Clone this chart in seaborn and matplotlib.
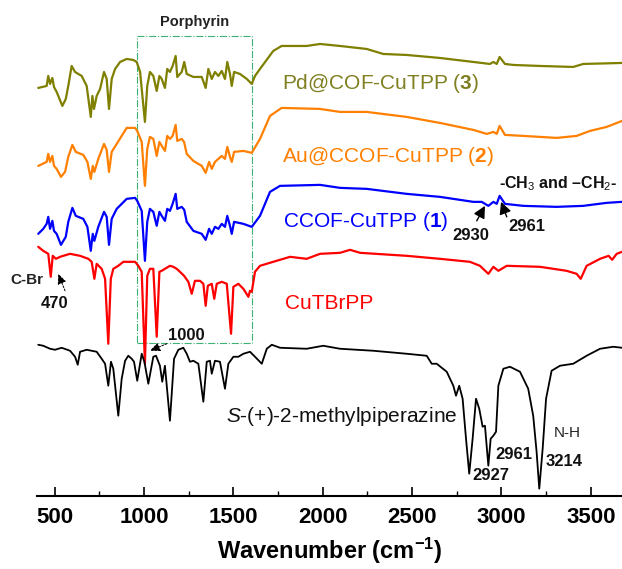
import matplotlib
matplotlib.use("Agg")
import matplotlib.pyplot as plt
import numpy as np
import pandas as pd
import seaborn as sns
from matplotlib.patches import Rectangle

# FT-IR spectra, stacked with vertical offsets (transmittance, arbitrary units)
pd_wn = [408, 455, 464, 474, 487, 496, 511, 543, 562, 576, 595, 614, 651, 679, 702, 711, 720,
         735, 754, 776, 791, 804, 819, 838, 866, 903, 940, 959, 978, 1005, 1018, 1033, 1052,
         1071, 1086, 1099, 1117, 1130, 1145, 1160, 1177, 1186, 1211, 1225, 1239, 1276, 1323,
         1345, 1360, 1379, 1397, 1416, 1435, 1453, 1466, 1481, 1491, 1504, 1537, 1575, 1603,
         1621, 1649, 1723, 1770, 1910, 1985, 2097, 2246, 2339, 2470, 2656, 2843, 2936, 2955,
         2974, 2990, 3020, 3067, 3216, 3402, 3458, 3675]
pd_t = [408, 410, 420, 412, 418, 409, 404, 390, 397, 410, 430, 424, 420, 410, 379, 400, 387,
        400, 407, 424, 417, 387, 417, 427, 434, 437, 436, 434, 424, 374, 410, 424, 420,
        405, 420, 417, 408, 427, 424, 430, 440, 419, 424, 434, 422, 419, 419,
        408, 427, 417, 424, 420, 425, 417, 434, 422, 410, 424, 422, 417, 412,
        420, 427, 445, 450, 450, 452, 450, 447, 442, 441, 438, 434, 432, 434,
        432, 439, 432, 431, 430, 429, 432, 433]

au_wn = [408, 455, 464, 474, 487, 496, 511, 535, 558, 576, 599, 618, 660, 683, 702, 713, 722,
         744, 776, 791, 804, 819, 847, 903, 950, 962, 987, 1005, 1018, 1033, 1052, 1071, 1086,
         1099, 1117, 1130, 1145, 1160, 1177, 1186, 1211, 1224, 1239, 1276, 1323, 1345, 1364,
         1379, 1397, 1416, 1435, 1453, 1466, 1481, 1491, 1504, 1556, 1603, 1649, 1705, 1770,
         1985, 2097, 2246, 2470, 2656, 2843, 2918, 2955, 2974, 2990, 3020, 3123, 3309, 3421,
         3496, 3589, 3675]
au_t = [330, 334, 342, 334, 340, 330, 327, 319, 324, 339, 351, 344, 341, 334, 317, 330, 324,
        337, 352, 346, 324, 344, 352, 368, 368, 365, 354, 310, 347, 359, 357, 340, 354,
        350, 345, 360, 357, 360, 371, 355, 357, 354, 342, 335, 330, 323, 334,
        327, 334, 337, 340, 337, 349, 339, 334, 344, 345, 343, 357, 380, 388,
        387, 384, 384, 379, 373, 366, 362, 364, 362, 370, 361, 360, 358, 360,
        365, 369, 375]

ccof_wn = [408, 436, 455, 464, 474, 487, 496, 511, 535, 562, 576, 599, 618, 660, 683, 702, 713,
           722, 744, 776, 791, 804, 819, 847, 903, 950, 962, 987, 1005, 1018, 1033, 1052, 1071,
           1086, 1099, 1117, 1130, 1145, 1160, 1177, 1186, 1211, 1225, 1239, 1276, 1323, 1345,
           1364, 1379, 1397, 1416, 1435, 1453, 1466, 1481, 1491, 1504, 1556, 1603, 1649, 1705,
           1761, 1985, 2097, 2246, 2470, 2656, 2843, 2890, 2927, 2955, 2974, 2990, 3020, 3123,
           3309, 3458, 3589, 3675]
ccof_t = [262, 267, 272, 279, 267, 275, 265, 262, 251, 259, 274, 288, 280, 277, 269, 245, 262,
          255, 269, 284, 279, 251, 277, 287, 297, 298, 295, 285, 235, 274, 287, 284, 270,
          284, 280, 275, 287, 285, 292, 302, 287, 289, 286, 274, 265, 262, 256,
          267, 262, 269, 267, 272, 269, 280, 270, 262, 274, 272, 269, 280, 304,
          310, 311, 308, 307, 302, 299, 294, 294, 290, 294, 292, 300, 292, 290,
          289, 290, 293, 294]

br_wn = [408, 436, 464, 478, 489, 507, 530, 548, 586, 642, 688, 707, 722, 735, 763, 782, 800,
         814, 828, 856, 884, 922, 950, 968, 987, 1005, 1018, 1033, 1052, 1071, 1086, 1099,
         1117, 1145, 1164, 1183, 1201, 1224, 1248, 1267, 1285, 1313, 1332, 1345, 1357, 1379,
         1393, 1407, 1435, 1463, 1487, 1500, 1528, 1556, 1584, 1593, 1603, 1621, 1649, 1723,
         1817, 1910, 1985, 2097, 2153, 2209, 2470, 2656, 2824, 2880, 2927, 2955, 2983, 3030,
         3216, 3365, 3421, 3444, 3477, 3552, 3600, 3620, 3645, 3675]
br_t = [249, 245, 242, 219, 240, 237, 239, 240, 242, 240, 237, 234, 217, 232, 227, 217, 152,
        217, 227, 230, 234, 234, 234, 230, 224, 132, 220, 227, 227, 159, 224, 225,
        227, 230, 229, 227, 224, 220, 214, 202, 215, 215, 212, 190, 210, 212,
        197, 212, 214, 212, 162, 209, 212, 207, 199, 205, 204, 224, 230, 234,
        239, 237, 242, 243, 246, 243, 240, 237, 234, 230, 222, 229, 225, 230,
        229, 225, 222, 217, 230, 237, 240, 236, 242, 244]

mp_wn = [408, 436, 474, 502, 539, 586, 614, 629, 642, 679, 735, 763, 782, 800, 815, 828, 856,
         875, 894, 912, 931, 944, 962, 987, 1002, 1024, 1052, 1067, 1089, 1102, 1117, 1145,
         1168, 1192, 1220, 1239, 1257, 1276, 1304, 1332, 1351, 1369, 1379, 1397, 1425, 1453,
         1472, 1500, 1528, 1556, 1593, 1621, 1659, 1687, 1715, 1761, 1910, 2003, 2097, 2283,
         2470, 2582, 2610, 2638, 2694, 2731, 2746, 2764, 2783, 2802, 2820, 2839, 2858, 2876,
         2895, 2908, 2927, 2940, 2955, 2970, 2983, 3011, 3048, 3104, 3150, 3178, 3197, 3212,
         3231, 3250, 3281, 3328, 3402, 3477, 3552, 3626, 3675]
mp_t = [151, 150, 147, 146, 148, 145, 139, 131, 144, 146, 144, 137, 132, 110, 134, 127, 80,
        117, 135, 140, 137, 134, 115, 142, 134, 112, 139, 140, 130, 114, 130, 75,
        137, 146, 148, 142, 134, 135, 132, 94, 134, 135, 122, 135, 134, 107,
        132, 139, 139, 142, 144, 139, 132, 147, 151, 148, 147, 150, 147, 145,
        142, 140, 132, 132, 124, 110, 100, 110, 97, 57, 22, 57, 97, 87,
        69, 70, 30, 57, 60, 64, 110, 127, 129, 124, 107, 80, 44, 7,
        47, 97, 125, 130, 132, 140, 147, 149, 148]

samples = ["Pd@COF-CuTPP", "Au@CCOF-CuTPP", "CCOF-CuTPP", "CuTBrPP", "S-(+)-2-methylpiperazine"]
wavenumbers = [pd_wn, au_wn, ccof_wn, br_wn, mp_wn]
intensities = [pd_t, au_t, ccof_t, br_t, mp_t]
colors = ["#7f7f00", "#ff8000", "#0000ff", "#ff0000", "#000000"]
widths = [1.6, 1.6, 1.6, 1.6, 1.3]

sns.set_theme(style="white")
plt.rcParams["font.family"] = ["Liberation Sans", "DejaVu Sans"]
plt.rcParams["mathtext.fontset"] = "custom"
plt.rcParams["mathtext.rm"] = "Liberation Sans"
plt.rcParams["mathtext.it"] = "Liberation Sans:italic"
plt.rcParams["mathtext.bf"] = "Liberation Sans:bold"

fig = plt.figure(figsize=(6.22, 5.69), dpi=100)
ax = fig.add_axes([0.0592, 0.1289, 0.9408, 0.8711])

for name, wn, t, c, w in zip(samples, wavenumbers, intensities, colors, widths):
    df = pd.DataFrame({"wavenumber": wn, "T": t})
    sns.lineplot(data=df, x="wavenumber", y="T", color=c, linewidth=w,
                 sort=False, estimator=None, ax=ax)

ax.set_xlim(400, 3675)
ax.set_ylim(0, 496)
ax.set_yticks([])
ax.set_ylabel("")
for s in ["left", "top", "right"]:
    ax.spines[s].set_visible(False)
ax.spines["bottom"].set_color("black")
ax.spines["bottom"].set_linewidth(1.5)

ax.set_xticks(np.arange(500, 3501, 500))
ax.set_xticks(np.arange(750, 3700, 500), minor=True)
ax.tick_params(axis="x", which="major", direction="in", length=6.5, width=1.2,
               labelsize=16, pad=8, colors="black", bottom=True)
ax.tick_params(axis="x", which="minor", direction="in", length=3.4, width=1.0,
               colors="black", bottom=True)
for lbl in ax.get_xticklabels():
    lbl.set_fontweight("bold")
ax.set_xlabel(r"Wavenumber (cm$^{\mathbf{-1}}$)", fontsize=17, fontweight="bold",
              color="black", labelpad=6)

# porphyrin region
ax.add_patch(Rectangle((962, 153), 1606 - 962, 460 - 153, fill=False,
                       edgecolor="#3cb371", linewidth=0.8, linestyle="-."))
ax.text(1285, 474, "Porphyrin", fontsize=10.5, fontweight="bold", ha="center",
        va="center", color="#222222")

# sample labels
ax.text(1770, 412, r"Pd@COF-CuTPP ($\mathbf{3}$)", fontsize=15, color="#7f7f20",
        ha="left", va="center")
ax.text(1770, 339, r"Au@CCOF-CuTPP ($\mathbf{2}$)", fontsize=15, color="#ff8000",
        ha="left", va="center")
ax.text(1779, 274, r"CCOF-CuTPP ($\mathbf{1}$)", fontsize=15, color="#0000ff",
        ha="left", va="center")
ax.text(1789, 192, "CuTBrPP", fontsize=15, color="#ff0000", ha="left", va="center")
ax.text(1459, 79, r"$\mathit{S}$-(+)-2-methylpiperazine", fontsize=15, color="#111111",
        ha="left", va="center")

# band assignments
bold = dict(fontsize=12, fontweight="bold", color="#111111", ha="center", va="center")
ax.text(2987, 312, r"-CH$_3$ and –CH$_2$-", fontsize=11.5, fontweight="bold",
        color="#111111", ha="left", va="center")
ax.text(2830, 260, "2930", **bold)
ax.text(3140, 269, "2961", **bold)
ax.text(343, 216, "C-Br", fontsize=11, fontweight="bold", color="#222222",
        ha="center", va="center", clip_on=False)
ax.text(502, 192, "470", **bold)
ax.text(1235, 160, "1000", **bold)
ax.text(2941, 20, "2927", **bold)
ax.text(3070, 41, "2961", **bold)
ax.text(3370, 63, "N-H", fontsize=11, color="#222222", ha="center", va="center")
ax.text(3350, 34, "3214", **bold)

solid = dict(arrowstyle="-|>,head_length=0.6,head_width=0.3", color="black", lw=1.0,
             shrinkA=0, shrinkB=0)
dashed = dict(arrowstyle="-|>,head_length=0.5,head_width=0.22", color="black", lw=0.7,
              linestyle=(0, (2, 1.5)), shrinkA=0, shrinkB=0)
ax.annotate("", xy=(2908, 290), xytext=(2862, 275), arrowprops=solid)
ax.annotate("", xy=(2998, 294), xytext=(3030, 279), arrowprops=solid)
ax.annotate("", xy=(520, 222), xytext=(558, 205), arrowprops=dashed)
ax.annotate("", xy=(1033, 145), xytext=(1127, 152), arrowprops=dashed)

fig.savefig("out.png", dpi=100)
